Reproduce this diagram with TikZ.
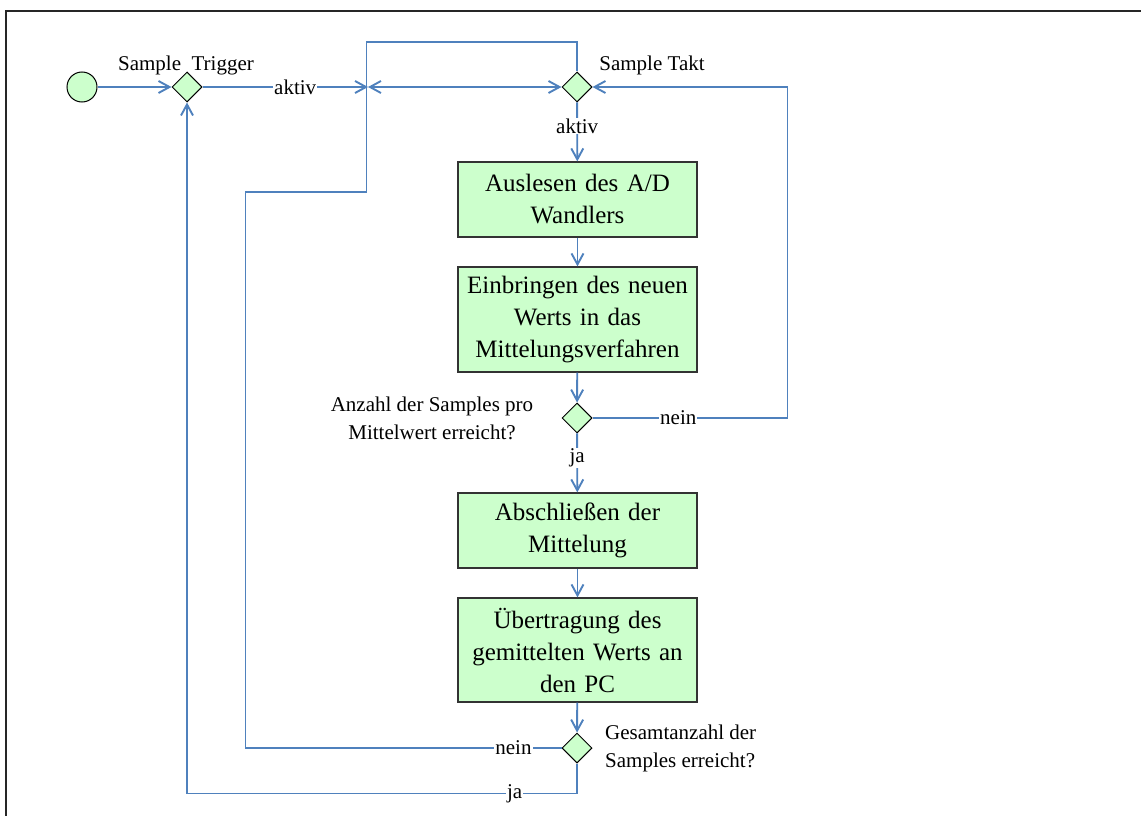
\documentclass[tikz,border=0pt]{standalone}
\usepackage{fontspec}
\setmainfont{Liberation Serif}
\usetikzlibrary{arrows.meta,shapes.geometric}
\definecolor{flow}{RGB}{79,129,189}
\definecolor{boxfill}{RGB}{204,255,204}
\tikzset{
  flowline/.style={draw=flow,line width=1.9pt},
  barb/.tip={Straight Barb[length=11pt,width=12pt]},
  arr/.style={flowline,-barb},
  startnode/.style={circle,draw=black,line width=1pt,fill=boxfill,minimum size=30pt,inner sep=0pt},
  decision/.style={diamond,draw=black,line width=1pt,fill=boxfill,minimum width=30pt,minimum height=30pt,inner sep=0pt},
  act/.style={rectangle,draw=black!80,line width=1.2pt,fill=boxfill,minimum width=239pt,text width=232pt,align=center,inner sep=0pt,font=\fontsize{25}{32}\selectfont},
  lbl/.style={inner sep=0pt,font=\fontsize{21}{28}\selectfont},
  onlabel/.style={fill=white,inner sep=1pt,font=\fontsize{21}{28}\selectfont}
}
\begin{document}
\begin{tikzpicture}[x=1pt,y=-1pt]
\useasboundingbox (0,0) rectangle (1141,816);
% sheet border
\draw[line width=2.2pt,black!85] (6,830) -- (6,11) -- (1150,11);

% nodes
\node[startnode] (start) at (82,87) {};
\node[decision] (trig) at (187,87) {};
\node[decision] (takt) at (577,87) {};
\coordinate (j) at (368,87);
\node[act,minimum height=75pt] (b1) at (577.5,199.5) {Auslesen des A/D\\Wandlers};
\node[act,minimum height=105pt] (b2) at (577.5,319.5) {Einbringen des neuen\\Werts in das\\Mittelungsverfahren};
\node[decision] (cnt) at (577,418) {};
\node[act,minimum height=75pt] (b3) at (577.5,530.5) {Abschließen der\\Mittelung};
\node[act,minimum height=104pt] (b4) at (577.5,650) {Übertragung des\\gemittelten Werts an\\den PC};
\node[decision] (tot) at (577,748) {};

% text labels
\node[lbl] (ltrig) at (186,65) {Sample\ \ Trigger};
\node[lbl] (ltakt) at (652,65) {Sample Takt};
\node[lbl,align=center] (lcnt) at (432,418) {Anzahl der Samples pro\\Mittelwert erreicht?};
\node[lbl,align=left,anchor=west] (ltot) at (605,748) {Gesamtanzahl der\\Samples erreicht?};

% connectors
\draw[arr] (start) -- (trig);
\draw[arr] (trig) -- node[onlabel,pos=0.56] {aktiv} (j);
\draw[flowline,barb-barb] (j) -- (takt);
\draw[arr] (takt) -- node[onlabel,pos=0.4] {aktiv} (b1);
\draw[arr] (b1) -- (b2);
\draw[arr] (b2) -- (cnt);
\draw[arr] (cnt) -- node[onlabel,pos=0.42] {ja} (b3);
\draw[arr] (b3) -- (b4);
\draw[arr] (b4) -- (tot);
\draw[arr] (cnt.east) -- node[onlabel,pos=0.44] {nein} ++(195,0) |- (takt.east);
\draw[flowline] (tot.west) -- node[onlabel,pos=0.152] {nein} ++(-316,0) -- ++(0,-556) -- ++(121,0) -- ++(0,-150) -| (takt.north);
\draw[arr] (tot.south) -- ++(0,30) -| node[onlabel,pos=0.08] {ja} (trig.south);
\end{tikzpicture}
\end{document}
